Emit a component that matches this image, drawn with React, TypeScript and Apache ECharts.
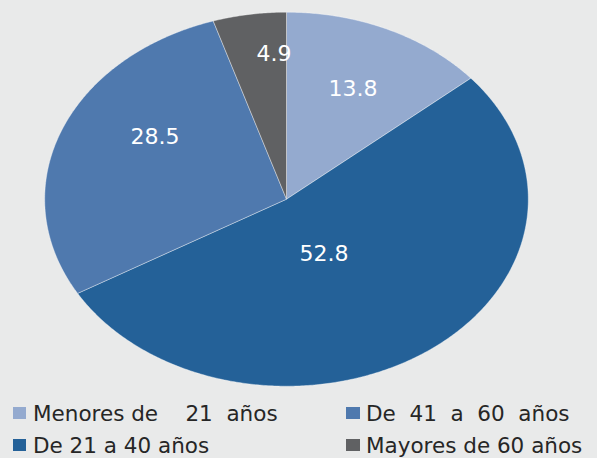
import React, { useEffect, useRef } from "react";
import * as echarts from "echarts";

const categories = ["Menores de    21  años", "De 21 a 40 años", "De  41  a  60  años", "Mayores de 60 años"];
const values = [13.8, 52.8, 28.5, 4.9];
const valueLabels = ["13.8", "52.8", "28.5", "4.9"];

const colors = ["#94aacf", "#246198", "#4f79ae", "#606163"];
// label anchor, as fractions of the ellipse radii from its centre (style, not data)
const labelAnchors: [number, number][] = [
  [0.275, -0.594],
  [0.155, 0.288],
  [-0.544, -0.337],
  [-0.052, -0.781],
];
// legend slot for each category: [left, top]
const legendSlots: [number, number][] = [
  [13, 402],
  [13, 434],
  [346, 402],
  [346, 434],
];

const BG = "#e9eaea";
const CX = 286.5;
const CY = 199.2;
const RX = 241.8;
const RY = 187;

export default function App() {
  const ref = useRef<HTMLDivElement>(null);
  useEffect(() => {
    document.body.style.margin = "0";
    document.body.style.background = BG;
    if (!ref.current) return;
    const chart = echarts.init(ref.current, undefined, { renderer: "svg" });
    const total = values.reduce((a, b) => a + b, 0);
    const series = categories.map((name, i) => ({
      type: "custom",
      name,
      coordinateSystem: "none",
      itemStyle: { color: colors[i] },
      data: [[values[i]]],
      renderItem: (_params: any, api: any) => {
        let before = 0;
        for (let k = 0; k < i; k++) before += values[k];
        const v = api.value(0);
        const a0 = (before / total) * Math.PI * 2;
        const a1 = ((before + v) / total) * Math.PI * 2;
        const steps = Math.max(4, Math.ceil(((a1 - a0) * 180) / Math.PI / 0.5));
        const pts: number[][] = [[CX, CY]];
        for (let s = 0; s <= steps; s++) {
          const t = a0 + ((a1 - a0) * s) / steps;
          pts.push([CX + RX * Math.sin(t), CY - RY * Math.cos(t)]);
        }
        const [fx, fy] = labelAnchors[i];
        return {
          type: "group",
          children: [
            {
              type: "polygon",
              shape: { points: pts },
              style: { fill: colors[i], stroke: "rgba(255,255,255,0.55)", lineWidth: 0.7 },
            },
            {
              type: "text",
              x: CX + fx * RX,
              y: CY + fy * RY,
              style: {
                text: valueLabels[i],
                fill: "#ffffff",
                fontSize: 22,
                fontFamily: "DejaVu Sans",
                align: "center",
                verticalAlign: "middle",
              },
            },
          ],
        };
      },
    }));
    const legend = categories.map((name, i) => ({
      orient: "horizontal",
      left: legendSlots[i][0],
      top: legendSlots[i][1],
      padding: 0,
      itemWidth: i < 2 ? 13 : 14,
      itemHeight: 12,
      icon: "rect",
      selectedMode: false,
      textStyle: {
        color: "#262626",
        fontSize: 21.5,
        fontFamily: "DejaVu Sans",
        lineHeight: 22,
        padding: [0, 0, 0, i < 2 ? 2 : 1],
      },
      data: [{ name, itemStyle: { color: colors[i] } }],
    }));
    chart.setOption({
      animation: false,
      backgroundColor: BG,
      legend,
      series,
    });
    return () => chart.dispose();
  }, []);
  return <div ref={ref} style={{ width: 597, height: 458 }} />;
}
